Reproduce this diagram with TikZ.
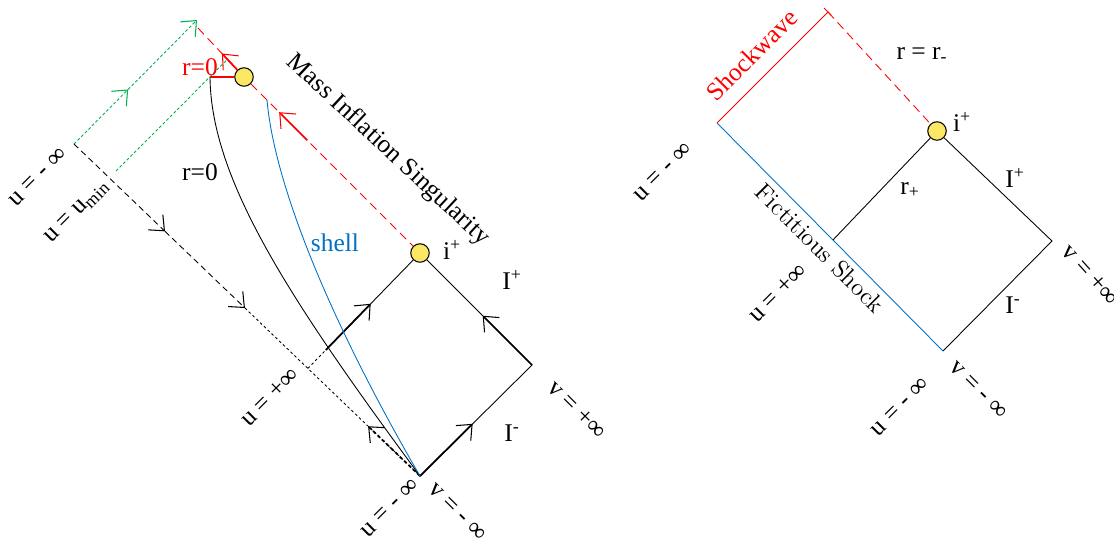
\documentclass[tikz,border=0pt]{standalone}
\usepackage{fontspec}
\setmainfont{Liberation Serif}
\newfontfamily\lmfont{Latin Modern Roman}
\usetikzlibrary{arrows.meta,calc}
\definecolor{shellblue}{RGB}{0,114,198}
\definecolor{raygreen}{RGB}{0,176,80}
\definecolor{dotyellow}{RGB}{250,232,100}
\tikzset{
  lbl/.style={font=\fontsize{14.5}{17}\selectfont, inner sep=0pt},
  spot/.style={circle, draw, line width=0.6pt, fill=dotyellow, minimum size=0.37cm, inner sep=0pt},
  barb/.style={-{Straight Barb[length=7pt,width=12pt,line width=0.6pt]}},
  fine/.style={line width=0.5pt},
  bold/.style={line width=1pt},
  reddash/.style={red, fine, dash pattern=on 5pt off 3pt},
  greendot/.style={raygreen, fine, dash pattern=on 1.7pt off 1.2pt},
}
\begin{document}
\begin{tikzpicture}[x=0.02cm,y=-0.02cm]
\useasboundingbox (0,0) rectangle (1114,542);

\node[spot] (Ip) at (420,253) {};
\node[spot] (M) at (244,77) {};
\coordinate (B) at (420,476);
\coordinate (R) at (532,365);
\coordinate (U) at (74,144);
\coordinate (L) at ($(U)!0.676!(B)$);
\coordinate (Umin) at (116,171);
\coordinate (T) at (197,20);
\coordinate (T2) at (198,28);
\coordinate (R0) at (210,77);
\coordinate (S0) at (267,100);

\draw[reddash] (T2) -- (M) -- (Ip);
\draw[red, bold, barb] (M) -- ($(M)!0.48!(T2)$);
\draw[red, bold, barb] ($(Ip)!0.64!(M)$) -- ($(Ip)!0.8!(M)$);
\draw[red, line width=1.5pt] (R0) -- (M);

\draw[greendot, barb] (U) -- ($(U)!0.44!(T)$);
\draw[greendot, barb] ($(U)!0.44!(T)$) -- (T);
\draw[greendot] (Umin) -- ($(T2)!0.64!(M)$);

\draw[fine, dash pattern=on 3.4pt off 2.3pt, barb] (U) -- ($(U)!0.263!(B)$);
\draw[fine, dash pattern=on 3.4pt off 2.3pt, barb] ($(U)!0.263!(B)$) -- ($(U)!0.494!(B)$);
\draw[fine, dash pattern=on 1.5pt off 1.5pt] ($(U)!0.494!(B)$) -- (B);
\draw[bold, dash pattern=on 2pt off 1.5pt, barb] (B) -- ($(U)!0.85!(B)$);

\draw[fine, dash pattern=on 1.5pt off 1.5pt] (L) -- ($(L)!0.16!(Ip)$);
\draw[fine] ($(L)!0.16!(Ip)$) -- (Ip);
\draw[bold, barb] ($(L)!0.16!(Ip)$) -- ($(L)!0.56!(Ip)$);
\draw[fine] (B) -- (R) -- (Ip);
\draw[bold, barb] (B) -- ($(B)!0.47!(R)$);
\draw[bold, barb] (R) -- ($(R)!0.44!(Ip)$);

\draw[fine] (R0) .. controls (211,180) and (290,300) .. (B);
\draw[shellblue, fine] (S0) .. controls (275,190) and (335,330) .. (B);

\node[lbl, rotate=45] (uminf) at (38,177) {u = - ∞};
\node[lbl, rotate=45] (umin) at (77,212) {u = u\textsubscript{min}};
\node[lbl, red] (rzero) at (200,67) {r=0};
\node[lbl] (rzerob) at (200,172) {r=0};
\node[lbl, rotate=-43] (mis) at (388,150) {Mass Inflation Singularity};
\node[lbl, shellblue] (shell) at (335,243) {shell};
\node[lbl] (iplus) at (452,250) {i\textsuperscript{+}};
\node[lbl] (Iplus) at (512,280) {I\textsuperscript{+}};
\node[lbl] (Iminus) at (512,433) {I\textsuperscript{-}};
\node[lbl, rotate=45] (upinf) at (270,397) {u = +∞};
\node[lbl, rotate=-45] (vpinf) at (577,410) {v = +∞};
\node[lbl, rotate=45] (uminfb) at (390,508) {u = - ∞};
\node[lbl, rotate=-45] (vminf) at (457,512) {v = - ∞};

\node[spot] (Jp) at (937,131) {};
\coordinate (SW) at (717,123);
\coordinate (ST) at (828,12);
\coordinate (RR) at (1052,241);
\coordinate (RB) at (943,351);
\coordinate (RM) at ($(SW)!0.513!(RB)$);

\draw[red, fine] (SW) -- (ST);
\draw[red, fine] ($(ST)+(-4,-4)$) -- ($(ST)+(3,3)$);
\draw[reddash] (ST) -- (Jp);
\draw[shellblue, fine] (SW) -- (RB);
\draw[fine] (Jp) -- (RM);
\draw[fine] (Jp) -- (RR) -- (RB);

\node[lbl, red, rotate=45] (shock) at (752,55) {Shockwave};
\node[lbl] (rminus) at (922,55) {r = r\textsubscript{-}};
\node[lbl] (jplus) at (962,122) {i\textsuperscript{+}};
\node[lbl, rotate=45] (uminfr) at (663,172) {u = - ∞};
\node[lbl] (rplus) at (910,190) {r\textsubscript{+}};
\node[lbl] (Jplus) at (1015,178) {I\textsuperscript{+}};
\node[lbl, font=\lmfont\fontsize{14}{16}\selectfont, rotate=-45] (fict) at (820,248) {Fictitious Shock};
\node[lbl, rotate=45] (upinfr) at (778,293) {u = +∞};
\node[lbl] (Jminus) at (1013,305) {I\textsuperscript{-}};
\node[lbl, rotate=-48] (vpinfr) at (1090,275) {v = +∞};
\node[lbl, rotate=45] (uminfbr) at (900,407) {u = - ∞};
\node[lbl, rotate=-45] (vminfr) at (978,390) {v = - ∞};
\end{tikzpicture}
\end{document}
